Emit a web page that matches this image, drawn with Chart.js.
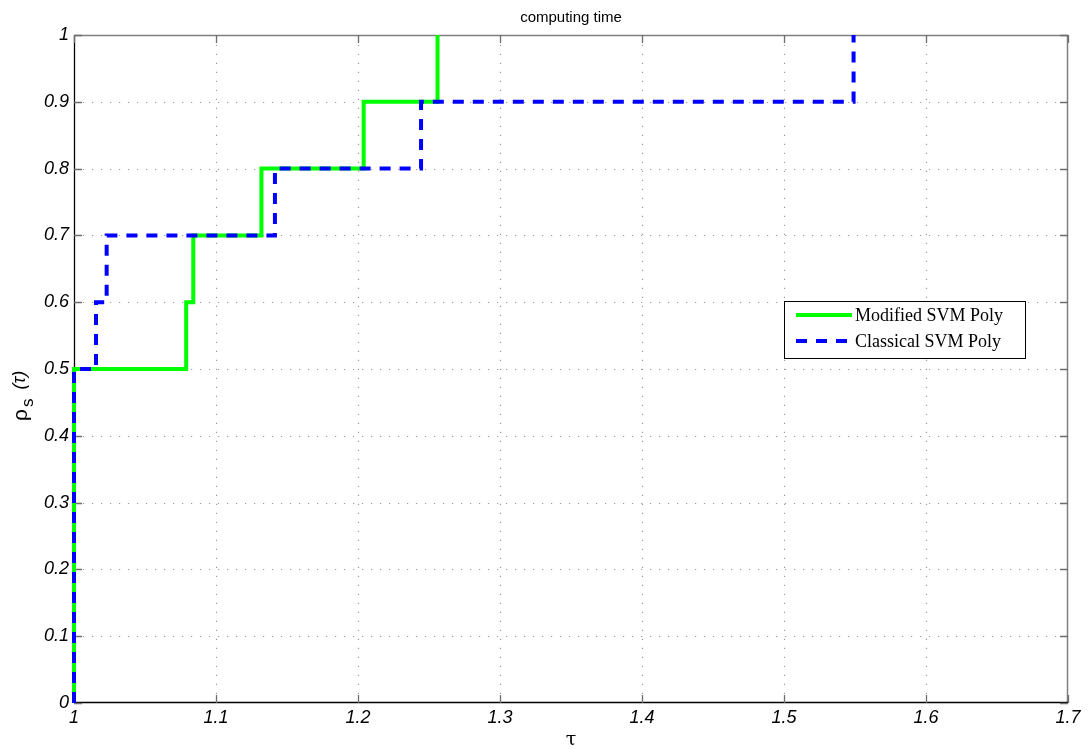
<!DOCTYPE html>
<html>
<head>
<meta charset="utf-8">
<script src="https://cdn.jsdelivr.net/npm/chart.js@4/dist/chart.umd.min.js"></script>
<style>
  html, body { margin: 0; padding: 0; background: #ffffff; }
  #wrap { width: 1092px; height: 749px; position: relative; }
</style>
</head>
<body>
<div id="wrap"><canvas id="c" width="1092" height="749"></canvas></div>
<script>
// Performance profile: fraction of problems solved within a factor tau of the best time
const seriesNames = ['Modified SVM Poly', 'Classical SVM Poly'];
const modifiedTau = [1, 1, 1.079, 1.084, 1.132, 1.204, 1.256];
const modifiedRho = [0, 0.5, 0.6, 0.7, 0.8, 0.9, 1.0];
const classicalTau = [1, 1, 1.0155, 1.023, 1.1415, 1.2444, 1.549];
const classicalRho = [0, 0.5, 0.6, 0.7, 0.8, 0.9, 1.0];
const xTicks = [1, 1.1, 1.2, 1.3, 1.4, 1.5, 1.6, 1.7];
const yTicks = [0, 0.1, 0.2, 0.3, 0.4, 0.5, 0.6, 0.7, 0.8, 0.9, 1];
const titleText = 'computing time';

const toPoints = (xs, ys) => xs.map((x, i) => ({ x: x, y: ys[i] }));

const tickFont = 'italic 18px "Liberation Sans", Arial, sans-serif';

// Dotted grid and axis box, drawn underneath the curves
const underlay = {
  id: 'underlay',
  beforeDatasetsDraw(chart) {
    const { ctx, chartArea: a, scales } = chart;
    const xs = scales.x, ys = scales.y;
    ctx.save();
    ctx.strokeStyle = '#9a9a9a';
    ctx.lineWidth = 1.2;
    ctx.setLineDash([1.2, 7.8]);
    ctx.beginPath();
    xTicks.forEach(t => {
      const px = Math.round(xs.getPixelForValue(t)) + 0.5;
      if (t === xTicks[0] || t === xTicks[xTicks.length - 1]) return;
      ctx.moveTo(px, a.bottom); ctx.lineTo(px, a.top);
    });
    yTicks.forEach(t => {
      const py = Math.round(ys.getPixelForValue(t)) + 0.5;
      if (t === yTicks[0] || t === yTicks[yTicks.length - 1]) return;
      ctx.moveTo(a.left, py); ctx.lineTo(a.right, py);
    });
    ctx.stroke();
    ctx.setLineDash([]);
    // box
    ctx.lineWidth = 1.5;
    ctx.strokeStyle = '#808080';
    ctx.beginPath();
    ctx.moveTo(a.left, a.top + 0.5); ctx.lineTo(a.right, a.top + 0.5);
    ctx.moveTo(a.right - 0.5, a.top); ctx.lineTo(a.right - 0.5, a.bottom);
    ctx.stroke();
    ctx.strokeStyle = '#000000';
    ctx.lineWidth = 1.3;
    ctx.beginPath();
    ctx.moveTo(a.left + 0.5, a.top); ctx.lineTo(a.left + 0.5, a.bottom);
    ctx.moveTo(a.left, a.bottom - 0.5); ctx.lineTo(a.right, a.bottom - 0.5);
    ctx.stroke();
    // inward ticks
    ctx.strokeStyle = '#6e6e6e';
    ctx.lineWidth = 1.3;
    const tl = 8;
    ctx.beginPath();
    xTicks.forEach(t => {
      const px = Math.round(xs.getPixelForValue(t)) + 0.5;
      ctx.moveTo(px, a.bottom); ctx.lineTo(px, a.bottom - tl);
      ctx.moveTo(px, a.top); ctx.lineTo(px, a.top + tl);
    });
    yTicks.forEach(t => {
      const py = Math.round(ys.getPixelForValue(t)) + 0.5;
      ctx.moveTo(a.left, py); ctx.lineTo(a.left + tl, py);
      ctx.moveTo(a.right, py); ctx.lineTo(a.right - tl, py);
    });
    ctx.stroke();
    ctx.restore();
  }
};

// Tick labels, title, axis labels and legend
const overlay = {
  id: 'overlay',
  afterDraw(chart) {
    const { ctx, chartArea: a, scales } = chart;
    const xs = scales.x, ys = scales.y;
    ctx.save();
    ctx.fillStyle = '#000000';
    ctx.font = tickFont;
    ctx.textAlign = 'right';
    ctx.textBaseline = 'middle';
    yTicks.forEach(t => {
      ctx.fillText(String(t), a.left - 5, ys.getPixelForValue(t));
    });
    ctx.textAlign = 'center';
    ctx.textBaseline = 'top';
    xTicks.forEach(t => {
      ctx.fillText(String(t), xs.getPixelForValue(t), a.bottom + 6);
    });
    // title
    ctx.font = '15px "Liberation Sans", Arial, sans-serif';
    ctx.textBaseline = 'alphabetic';
    ctx.fillText(titleText, (a.left + a.right) / 2, 22);
    // x label
    ctx.font = '19px "DejaVu Serif", "Liberation Serif", serif';
    ctx.fillText('τ', (a.left + a.right) / 2, 745);
    // y label (rotated)
    ctx.save();
    ctx.translate(27, 383);
    ctx.rotate(-Math.PI / 2);
    ctx.textAlign = 'left';
    ctx.textBaseline = 'alphabetic';
    ctx.font = '21px "Liberation Sans", Arial, sans-serif';
    let x0 = -38;
    ctx.fillText('ρ', x0, 0);
    x0 += ctx.measureText('ρ').width + 2;
    ctx.font = '17px "Liberation Sans", Arial, sans-serif';
    ctx.fillText('s', x0, 6);
    x0 += ctx.measureText('s').width + 9;
    ctx.font = 'italic 18px "Liberation Sans", Arial, sans-serif';
    ctx.fillText('(τ)', x0, -2);
    ctx.restore();
    // legend
    const lx = 784, ly = 301, lw = 241, lh = 57;
    ctx.fillStyle = '#ffffff';
    ctx.fillRect(lx, ly, lw, lh);
    ctx.strokeStyle = '#000000';
    ctx.lineWidth = 1;
    ctx.strokeRect(lx + 0.5, ly + 0.5, lw, lh);
    const ds = chart.data.datasets;
    const rows = [ds.find(d => d.label === seriesNames[0]), ds.find(d => d.label === seriesNames[1])];
    rows.forEach((d, i) => {
      const yy = ly + 14 + i * 26;
      ctx.strokeStyle = d.borderColor;
      ctx.lineWidth = 4;
      ctx.setLineDash(d.borderDash || []);
      ctx.beginPath();
      ctx.moveTo(lx + 12, yy); ctx.lineTo(lx + 68, yy);
      ctx.stroke();
      ctx.setLineDash([]);
      ctx.fillStyle = '#000000';
      ctx.font = '17.5px "DejaVu Serif", "Liberation Serif", serif';
      ctx.font = '18px "Liberation Serif", serif';
      ctx.textAlign = 'left';
      ctx.textBaseline = 'middle';
      ctx.fillText(d.label, lx + 71, yy + 1);
    });
    ctx.restore();
  }
};

new Chart(document.getElementById('c'), {
  type: 'line',
  data: {
    datasets: [
      {
        label: seriesNames[1],
        data: toPoints(classicalTau, classicalRho),
        borderColor: '#0000ff',
        borderWidth: 4,
        borderDash: [11, 9],
        borderCapStyle: 'butt',
        stepped: 'before',
        pointRadius: 0,
        fill: false,
        clip: false,
        order: 0
      },
      {
        label: seriesNames[0],
        data: toPoints(modifiedTau, modifiedRho),
        borderColor: '#00ff00',
        borderWidth: 4,
        borderCapStyle: 'butt',
        stepped: 'before',
        pointRadius: 0,
        fill: false,
        clip: false,
        order: 1
      }
    ]
  },
  options: {
    responsive: false,
    animation: false,
    devicePixelRatio: 1,
    layout: { padding: { left: 0, right: 24, top: 35, bottom: 0 } },
    plugins: { legend: { display: false }, title: { display: false }, tooltip: { enabled: false } },
    scales: {
      x: {
        type: 'linear',
        min: 1, max: 1.7,
        afterBuildTicks: s => { s.ticks = xTicks.map(v => ({ value: v })); },
        afterFit: s => { s.height = 46; },
        ticks: { display: false },
        border: { display: false },
        grid: { display: false }
      },
      y: {
        type: 'linear',
        min: 0, max: 1,
        afterBuildTicks: s => { s.ticks = yTicks.map(v => ({ value: v })); },
        afterFit: s => { s.width = 74; },
        ticks: { display: false },
        border: { display: false },
        grid: { display: false }
      }
    }
  },
  plugins: [underlay, overlay]
});
</script>
</body>
</html>
